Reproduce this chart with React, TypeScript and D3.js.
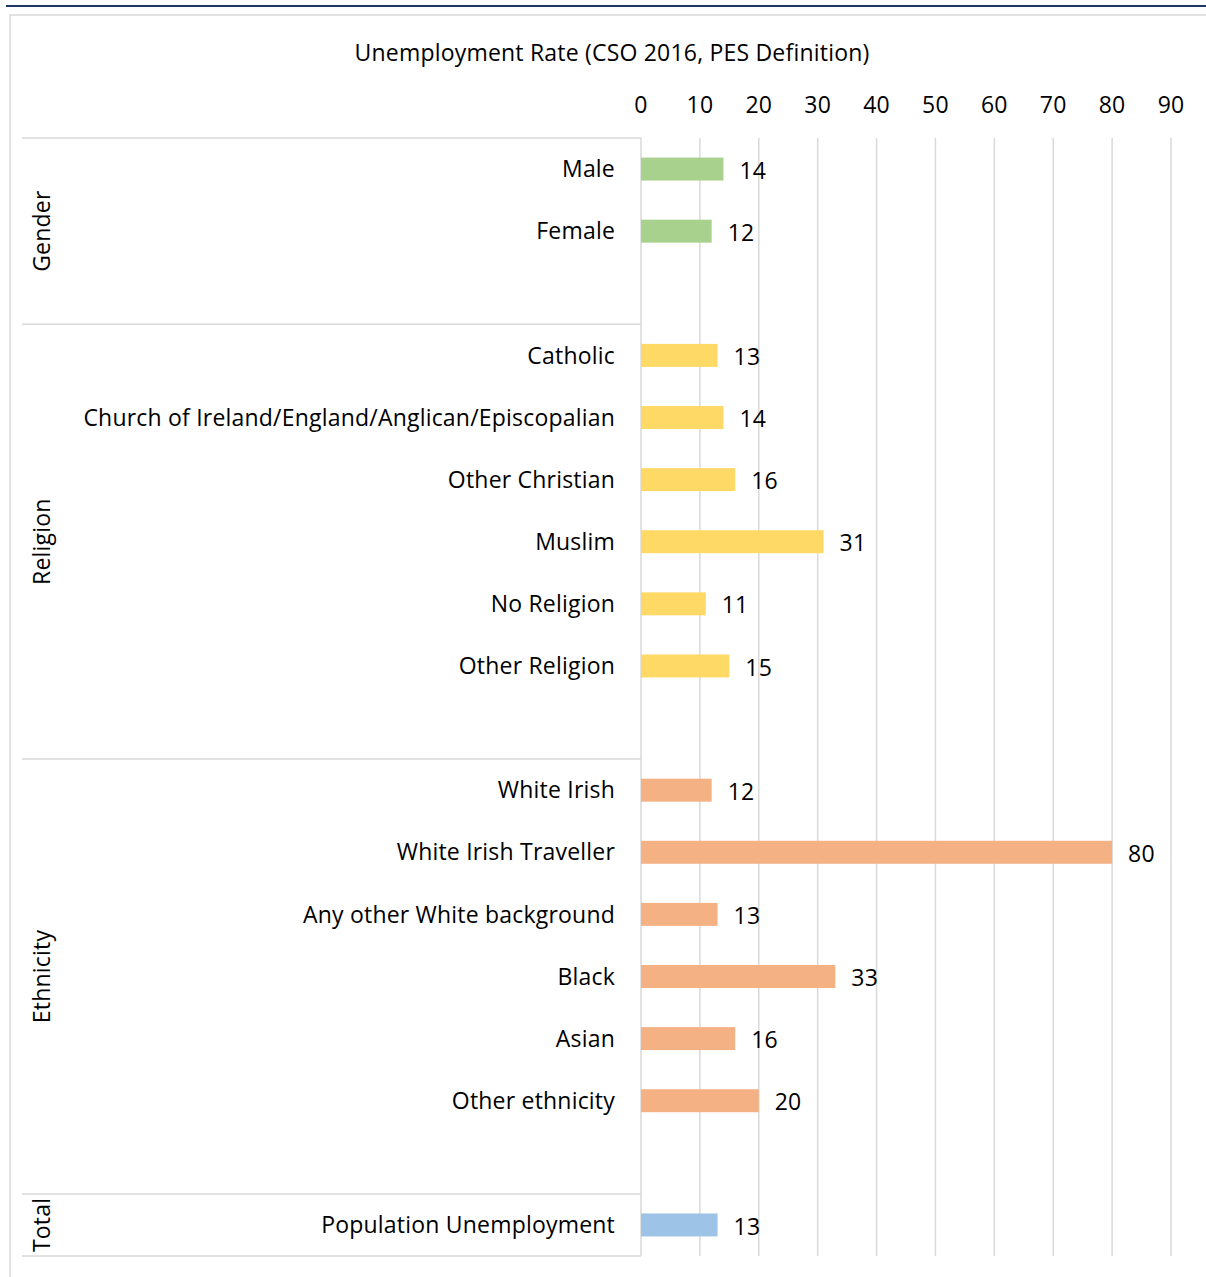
import React from "react";
import * as d3 from "d3";

const groups = ["Gender", "Religion", "Ethnicity", "Total"];
const categories = [
  "Male", "Female", "",
  "Catholic", "Church of Ireland/England/Anglican/Episcopalian", "Other Christian", "Muslim", "No Religion", "Other Religion", "",
  "White Irish", "White Irish Traveller", "Any other White background", "Black", "Asian", "Other ethnicity", "",
  "Population Unemployment",
];
const groupOf = [0, 0, 0, 1, 1, 1, 1, 1, 1, 1, 2, 2, 2, 2, 2, 2, 2, 3];
const values: (number | null)[] = [
  14, 12, null,
  13, 14, 16, 31, 11, 15, null,
  12, 80, 13, 33, 16, 20, null,
  13,
];
const groupColors = ["#a9d18e", "#ffd966", "#f4b183", "#9dc3e6"];
const ticks = [0, 10, 20, 30, 40, 50, 60, 70, 80, 90];
const title = "Unemployment Rate (CSO 2016, PES Definition)";

export default function App() {
  const W = 1206, H = 1277;
  const x0 = 641, x90 = 1171;
  const top = 138, bottom = 1256;
  const font = "'Open Sans', Lato, sans-serif";
  const fs = 23;
  const ls = 0.2;

  const x = d3.scaleLinear().domain([0, 90]).range([x0, x90]);
  const idx = categories.map((_, i) => String(i));
  const y = d3.scaleBand().domain(idx).range([top, bottom]).paddingInner(0.63).paddingOuter(0.315);
  const slot = d3.scaleBand().domain(idx).range([top, bottom]);

  const groupBounds = groups.map((_, g) => {
    const members = groupOf.map((gg, i) => (gg === g ? i : -1)).filter((i) => i >= 0);
    const s = slot(String(members[0]))!;
    const e = slot(String(members[members.length - 1]))! + slot.bandwidth();
    return { s, e };
  });
  const separators = [top, groupBounds[1].s, groupBounds[2].s, groupBounds[3].s, bottom];

  const tp = { fontFamily: font, fontSize: fs, letterSpacing: ls, fill: "#000", dominantBaseline: "middle" as const };

  return (
    <svg width={W} height={H} style={{ position: "absolute", left: 0, top: 0, background: "#fff" }}>
      <rect x={0} y={0} width={W} height={H} fill="#fff" />
      <line x1={6} x2={W} y1={6} y2={6} stroke="#1f3864" strokeWidth={2} />
      <rect x={10} y={15} width={1240} height={1300} fill="none" stroke="#d9d9d9" strokeWidth={1.5} />
      <text x={612} y={55} textAnchor="middle" {...tp}>
        {title}
      </text>
      {ticks.map((t) => (
        <g key={t}>
          <text x={x(t)} y={107} textAnchor="middle" {...tp}>
            {t}
          </text>
          {t > 0 && <line x1={x(t)} x2={x(t)} y1={top} y2={bottom} stroke="#d9d9d9" strokeWidth={1.5} />}
        </g>
      ))}
      <line x1={x0} x2={x0} y1={top} y2={bottom} stroke="#d9d9d9" strokeWidth={1.5} />
      {separators.map((s, i) => (
        <line key={i} x1={22} x2={x0} y1={s} y2={s} stroke="#d9d9d9" strokeWidth={1.5} />
      ))}
      {groups.map((g, i) => {
        const c = (separators[i] + separators[i + 1]) / 2;
        return (
          <text key={g} transform={`translate(44,${c}) rotate(-90)`} textAnchor="middle" {...tp}>
            {g}
          </text>
        );
      })}
      {categories.map((c, i) => {
        const v = values[i];
        const cy = slot(String(i))! + slot.bandwidth() / 2;
        return (
          <g key={i}>
            {c && (
              <text x={615} y={cy + 2} textAnchor="end" {...tp}>
                {c}
              </text>
            )}
            {v !== null && (
              <>
                <rect x={x(0)} y={y(String(i))!} width={x(v) - x(0)} height={y.bandwidth()} fill={groupColors[groupOf[i]]} />
                <text x={x(v) + 16} y={cy + 3.5} {...tp}>
                  {v}
                </text>
              </>
            )}
          </g>
        );
      })}
    </svg>
  );
}
